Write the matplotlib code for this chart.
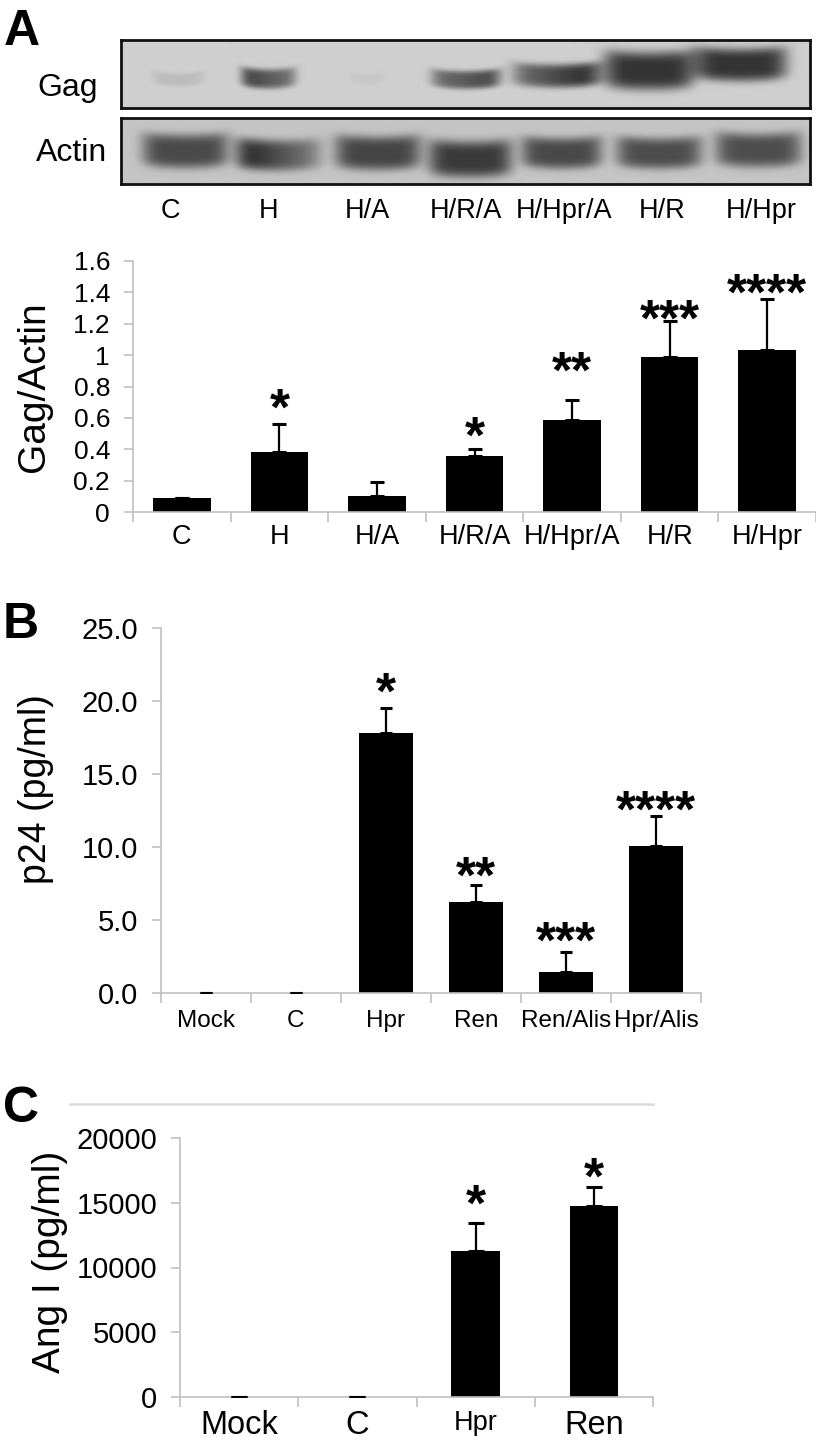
import numpy as np
import matplotlib.pyplot as plt
from matplotlib.lines import Line2D

W, H = 816, 1445
GREY = '#c0c0c0'
SANS = ['Liberation Sans', 'DejaVu Sans']

# ---- panel A: western blot (band darkness per lane, 0 = none, 1 = saturated)
lanes_a = ['C', 'H', 'H/A', 'H/R/A', 'H/Hpr/A', 'H/R', 'H/Hpr']
gag_signal = [0.12, 0.75, 0.05, 0.75, 0.85, 1.00, 1.00]
actin_signal = [0.85, 0.80, 0.88, 0.95, 0.85, 0.82, 0.82]

# band shape: lane offset, width (lanes), centre (px from box top), height (px), tilt
gag_shape = [(0.08, 0.45, 40, 10, 0.0), (0.0, 0.50, 39, 15, -0.25),
             (0.0, 0.30, 40, 8, 0.0), (0.0, 0.63, 40, 14, 0.2),
             (-0.08, 0.80, 36, 18, 0.3), (-0.13, 0.82, 31, 29, 0.0),
             (-0.20, 0.84, 25, 25, 0.0)]
actin_shape = [(0.15, 0.78, 35, 26, 0.0), (0.11, 0.78, 39, 24, -0.45),
               (0.11, 0.78, 37, 26, 0.0), (0.05, 0.76, 43, 28, 0.0),
               (-0.02, 0.73, 37, 24, 0.0), (-0.03, 0.78, 37, 24, 0.0),
               (-0.02, 0.78, 34, 26, 0.0)]

# ---- panel A: densitometry
gag_actin = [0.09, 0.385, 0.10, 0.355, 0.585, 0.99, 1.035]
gag_actin_err = [0.0, 0.175, 0.09, 0.045, 0.13, 0.23, 0.325]
stars_a = ['', '*', '', '*', '**', '***', '****']
stars_a_y = [0, 0.75, 0, 0.575, 0.99, 1.32, 1.485]

# ---- panel B: p24 release
groups_b = ['Mock', 'C', 'Hpr', 'Ren', 'Ren/Alis', 'Hpr/Alis']
p24 = [0.0, 0.0, 17.8, 6.2, 1.45, 10.05]
p24_err = [0.0, 0.0, 1.75, 1.2, 1.35, 2.1]
stars_b = ['', '', '*', '**', '***', '****']
stars_b_y = [0, 0, 21.6, 9.0, 4.5, 13.5]

# ---- panel C: Ang I generation
groups_c = ['Mock', 'C', 'Hpr', 'Ren']
ang1 = [0, 0, 11300, 14750]
ang1_err = [0, 0, 2100, 1450]
stars_c = ['', '', '*', '*']
stars_c_y = [0, 0, 15970, 18060]


def rect(x0, y0, x1, y1):
    return [x0 / W, 1 - y1 / H, (x1 - x0) / W, (y1 - y0) / H]


def blot_image(signal, shape, bg, ny=68, nx=700):
    x = np.linspace(-0.5, len(signal) - 0.5, nx)
    y = np.arange(ny) + 0.5
    X, Y = np.meshgrid(x, y)
    dark = np.zeros_like(X)
    for i, (s, (dx, w, yc, h, tilt)) in enumerate(zip(signal, shape)):
        u = (X - i - dx) / (w * 0.56)
        yy = yc - 3 * u ** 2
        prof = np.exp(-np.abs(u) ** 6) * np.exp(-((Y - yy) / (h * 0.66)) ** 4)
        dark += s * np.clip(1 + tilt * u, 0, 1.5) * prof
    dark = np.clip(dark, 0, 1)
    return bg - dark * (bg - 0.2)


def draw_blot(ax, signal, shape, bg):
    img = blot_image(signal, shape, bg)
    ax.imshow(img, extent=(-0.5, len(signal) - 0.5, img.shape[0], 0),
              aspect='auto', cmap='gray', vmin=0, vmax=1, interpolation='bilinear')
    for s in ax.spines.values():
        s.set_linewidth(2)
        s.set_color('#111111')
    ax.set_yticks([])


def style_bars(ax, labels, xmax, label_size, xpad, ylim, yticks, ylabels, tick_size):
    n = len(labels)
    for s in ['top', 'right']:
        ax.spines[s].set_visible(False)
    for s in ['left', 'bottom']:
        ax.spines[s].set_color(GREY)
        ax.spines[s].set_linewidth(1.2)
    ax.set_xlim(-0.5, xmax)
    ax.set_ylim(*ylim)
    ax.set_xticks(range(n))
    ax.set_xticklabels(labels, family=SANS, fontsize=label_size)
    ax.set_xticks(np.arange(n + 1) - 0.5, minor=True)
    ax.tick_params(axis='x', which='major', length=0, pad=xpad)
    ax.tick_params(axis='x', which='minor', length=7.5, color=GREY, width=1.2)
    ax.set_yticks(yticks)
    ax.set_yticklabels(ylabels, family=SANS, fontsize=tick_size)
    ax.tick_params(axis='y', length=6.5, color=GREY, width=1.2, pad=10)


def draw_bars(ax, vals, errs, width, capsize, stars, star_y, star_size=37):
    x = np.arange(len(vals))
    ax.bar(x, vals, width=width, color='black', zorder=2)
    ax.errorbar(x, vals, yerr=[np.zeros(len(vals)), errs], fmt='none',
                ecolor='black', elinewidth=1.6, capsize=capsize, capthick=2.2,
                zorder=3)
    for xi, s, sy in zip(x, stars, star_y):
        if s:
            ax.annotate(s, xy=(xi, sy), xytext=(0, -22), textcoords='offset points',
                        ha='center', va='baseline', fontsize=star_size,
                        fontweight='bold', family=SANS, annotation_clip=False)


fig = plt.figure(figsize=(W / 100, H / 100), dpi=100)

# blots
ax_gag = fig.add_axes(rect(121, 40, 810, 108))
draw_blot(ax_gag, gag_signal, gag_shape, 0.81)
ax_gag.set_xticks([])
ax_act = fig.add_axes(rect(121, 118, 810, 184))
draw_blot(ax_act, actin_signal, actin_shape, 0.77)
ax_act.set_xticks(range(len(lanes_a)))
ax_act.set_xticklabels(lanes_a, family=SANS, fontsize=19.5)
ax_act.tick_params(axis='x', length=0, pad=10)
fig.text(68 / W, 1 - 96 / H, 'Gag', family=SANS, fontsize=23, ha='center', va='baseline')
fig.text(72 / W, 1 - 161 / H, 'Actin', family=SANS, fontsize=23, ha='center', va='baseline')

# A densitometry
ax_a = fig.add_axes(rect(133, 261, 816, 512))
style_bars(ax_a, lanes_a, 6.47, 19.5, 9, (0, 1.6), np.arange(0, 1.61, 0.2),
           ['0', '0.2', '0.4', '0.6', '0.8', '1', '1.2', '1.4', '1.6'], 19)
draw_bars(ax_a, gag_actin, gag_actin_err, 0.59, 5, stars_a, stars_a_y)
fig.text(34 / W, 1 - 387 / H, 'Gag/Actin', family=SANS, fontsize=28,
         rotation=90, ha='center', va='center')

# B p24
ax_b = fig.add_axes(rect(161, 628, 701, 993))
style_bars(ax_b, groups_b, 5.5, 17.5, 12, (0, 25), np.arange(0, 25.1, 5),
           ['%.1f' % v for v in np.arange(0, 25.1, 5)], 21)
draw_bars(ax_b, p24, p24_err, 0.61, 4.5, stars_b, stars_b_y)
fig.text(36 / W, 1 - 789 / H, 'p24 (pg/ml)', family=SANS, fontsize=27,
         rotation=90, ha='center', va='center')

# C Ang I
ax_c = fig.add_axes(rect(180, 1138, 653, 1397))
style_bars(ax_c, groups_c, 3.44, 23.5, 9.5, (0, 20000), np.arange(0, 20001, 5000),
           ['%d' % v for v in np.arange(0, 20001, 5000)], 21)
ax_c.get_xticklabels()[2].set_fontsize(19.5)
draw_bars(ax_c, ang1, ang1_err, 0.41, 6, stars_c, stars_c_y)
fig.text(50 / W, 1 - 1262 / H, 'Ang I (pg/ml)', family=SANS, fontsize=28,
         rotation=90, ha='center', va='center')
fig.add_artist(Line2D([70 / W, 653 / W], [1 - 1104 / H] * 2, color='#d9d9d9', lw=1.8))

# panel letters
for letter, x0, yb in [('A', 4, 45), ('B', 3, 638), ('C', 3, 1122)]:
    fig.text(x0 / W, 1 - yb / H, letter, family=SANS, fontsize=36,
             fontweight='bold', ha='left', va='baseline')

fig.savefig('out.png', dpi=100)
